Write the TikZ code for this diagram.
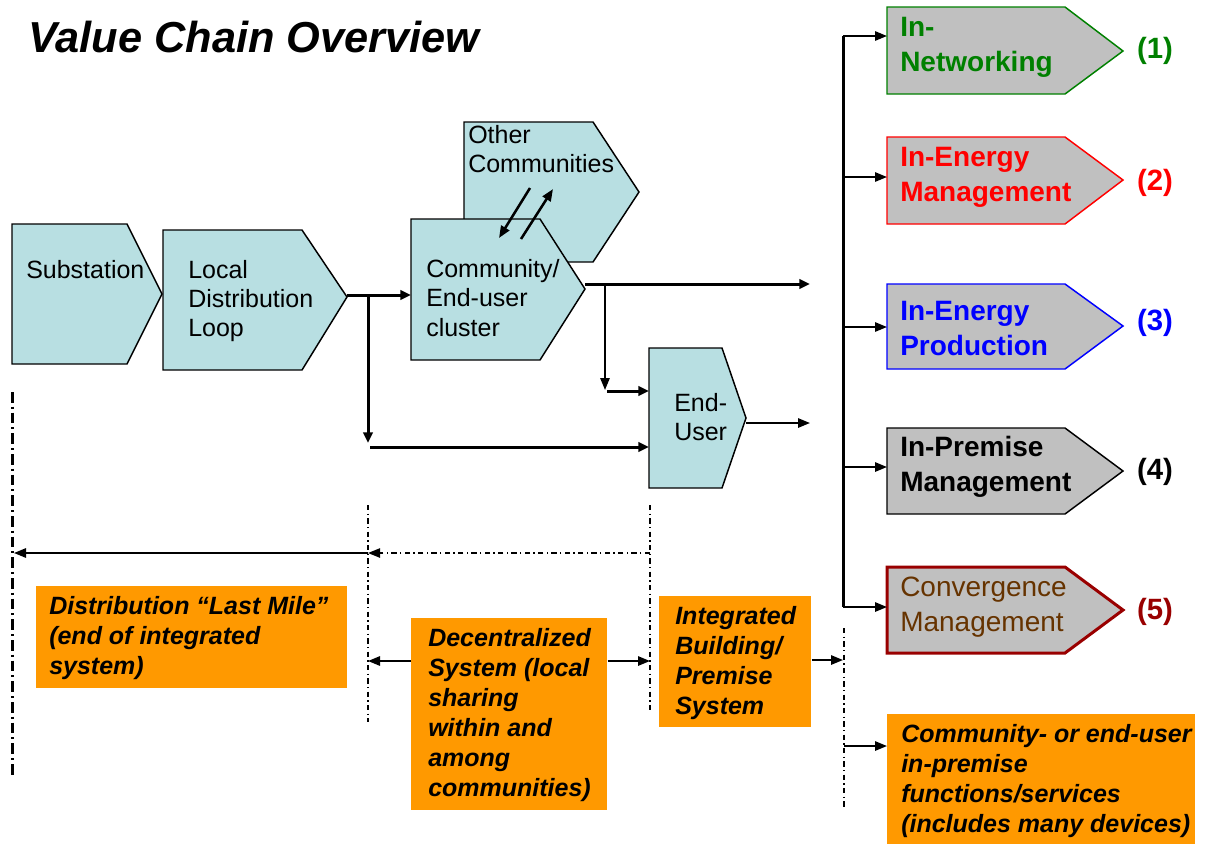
\documentclass[tikz,border=0pt]{standalone}
\usepackage{fontspec}
\setmainfont{Liberation Sans}
\usetikzlibrary{arrows.meta,calc}
\definecolor{cyanf}{HTML}{B8DFE2}
\definecolor{grayf}{HTML}{C0C0C0}
\definecolor{netg}{HTML}{008000}
\definecolor{engr}{HTML}{FF0000}
\definecolor{prodb}{HTML}{0000FF}
\definecolor{convr}{HTML}{990000}
\definecolor{convt}{HTML}{663300}
\definecolor{orangef}{HTML}{FF9900}
\begin{document}
\begin{tikzpicture}[x=0.75pt,y=-0.75pt,
  cyanbox/.style={draw=black, line width=1.1pt, fill=cyanf, line join=miter},
  graybox/.style={fill=grayf, line width=1.1pt, line join=miter},
  ctext/.style={anchor=west, align=left, inner sep=0pt, font=\fontsize{18.75pt}{22pt}\selectfont},
  rtext/.style={anchor=west, align=left, inner sep=0pt, font=\bfseries\fontsize{21pt}{26.25pt}\selectfont},
  num/.style={inner sep=0pt, font=\bfseries\fontsize{22pt}{26pt}\selectfont},
  obox/.style={fill=orangef, draw=none, anchor=north west, inner sep=0pt},
  otext/.style={anchor=west, align=left, inner sep=0pt, font=\bfseries\itshape\fontsize{18.75pt}{22.5pt}\selectfont},
  tkarrow/.style={line width=2.25pt, -{Triangle[length=8pt,width=7pt]}},
  tnarrow/.style={line width=1.4pt, -{Triangle[length=9pt,width=7pt]}},
  ddthin/.style={line width=1pt, dash pattern=on 4pt off 2.5pt on 1pt off 2.5pt},
  ddthick/.style={line width=2.25pt, dash pattern=on 8pt off 3pt on 1.5pt off 3pt},
]
\useasboundingbox (0,0) rectangle (1209,844);

% title
\node[anchor=west, inner sep=0pt, font=\bfseries\itshape\fontsize{32.5pt}{37pt}\selectfont] (title) at (28,37) {Value Chain Overview};

% cyan value-chain shapes
\draw[cyanbox] (12,224) -- (127,224) -- (162,294) -- (127,364) -- (12,364) -- cycle;
\node[ctext] (sub) at (26,270) {Substation};

\draw[cyanbox] (163,230) -- (302,230) -- (347,297) -- (302,370) -- (163,370) -- cycle;
\node[ctext] (ldl) at (188,301) {Local\\Distribution\\Loop};

\draw[cyanbox] (464,122) -- (593,122) -- (639,192) -- (593,262) -- (464,262) -- cycle;
\node[ctext] (oth) at (468,149) {Other\\Communities};

\draw[cyanbox] (411,219) -- (540,219) -- (585,289) -- (540,360) -- (411,360) -- cycle;
\node[ctext] (com) at (426,298) {Community/\\End-user\\cluster};

\draw[cyanbox] (649,348) -- (722,348) -- (746,418) -- (722,488) -- (649,488) -- cycle;
\node[ctext] (eu) at (674,417) {End-\\User};

% connection points
\coordinate (ldlT) at (347,295);
\coordinate (comW) at (411,295);
\coordinate (brA) at (368,295);
\coordinate (brAe) at (368,443);
\coordinate (brB) at (370,447);
\coordinate (euWb) at (649,447);
\coordinate (comT) at (585,284);
\coordinate (outA) at (810,284);
\coordinate (brC) at (605,284);
\coordinate (brCe) at (605,390);
\coordinate (brD) at (607,391);
\coordinate (euWa) at (649,391);
\coordinate (euT) at (746,423);
\coordinate (outB) at (810,423);
\coordinate (o1) at (530,188);
\coordinate (o1e) at (499,238);
\coordinate (o2) at (521,239);
\coordinate (o2e) at (553,189);

\draw[tkarrow] (ldlT) -- (comW);
\draw[tkarrow] (brA) -- (brAe);
\draw[tkarrow] (brB) -- (euWb);
\draw[tkarrow] (comT) -- (outA);
\draw[tnarrow] (brC) -- (brCe);
\draw[tkarrow] (brD) -- (euWa);
\draw[tnarrow] (euT) -- (outB);
\draw[tnarrow, line width=1.9pt] (o1) -- (o1e);
\draw[tnarrow, line width=1.9pt] (o2) -- (o2e);

% right-hand function shapes
\draw[graybox, draw=netg] (887,7) -- (1065,7) -- (1123,51) -- (1065,94) -- (887,94) -- cycle;
\node[rtext, text=netg] (net) at (900,47) {In-\\Networking};
\node[num, text=netg] (n1) at (1155,51) {(1)};

\draw[graybox, draw=engr] (887,137) -- (1065,137) -- (1123,180) -- (1065,224) -- (887,224) -- cycle;
\node[rtext, text=engr] (enm) at (900,177) {In-Energy\\Management};
\node[num, text=engr] (n2) at (1155,183) {(2)};

\draw[graybox, draw=prodb] (887,284) -- (1065,284) -- (1123,326) -- (1065,369) -- (887,369) -- cycle;
\node[rtext, text=prodb] (enp) at (900,328) {In-Energy\\Production};
\node[num, text=prodb] (n3) at (1155,323) {(3)};

\draw[graybox, draw=black] (887,428) -- (1065,428) -- (1123,471) -- (1065,514) -- (887,514) -- cycle;
\node[rtext, text=black] (prm) at (900,467) {In-Premise\\Management};
\node[num, text=black] (n4) at (1155,472) {(4)};

\draw[graybox, draw=convr, line width=2.25pt] (887,567) -- (1065,567) -- (1123,610) -- (1065,653) -- (887,653) -- cycle;
\node[rtext, text=convt, font=\fontsize{21pt}{26.25pt}\selectfont] (cnv) at (900,607) {Convergence\\Management};
\node[num, text=convr] (n5) at (1155,612) {(5)};

% distribution bar to functions
\coordinate (barT) at (843,36);
\coordinate (barB) at (843,607);
\draw[line width=2.25pt] (barT) -- (barB);
\foreach \yy/\nm in {36/f1,177/f2,327/f3,467/f4,607/f5}{
  \coordinate (\nm s) at (843,\yy);
  \coordinate (\nm e) at (887,\yy);
  \draw[tnarrow] (\nm s) -- (\nm e);
}

% boundary lines
\coordinate (vL1) at (12,392);
\coordinate (vL2) at (12,778);
\coordinate (vM1) at (368,505);
\coordinate (vM2) at (368,722);
\coordinate (vR1) at (650,505);
\coordinate (vR2) at (650,713);
\coordinate (vF1) at (844,628);
\coordinate (vF2) at (844,809);
\draw[ddthick] (vL1) -- (vL2);
\draw[ddthin] (vM1) -- (vM2);
\draw[ddthin] (vR1) -- (vR2);
\draw[ddthin] (vF1) -- (vF2);

\coordinate (hR) at (650,553);
\coordinate (hM) at (368,553);
\coordinate (hL) at (14,553);
\draw[ddthin, -{Triangle[length=9pt,width=7pt]}] (hR) -- (hM);
\draw[tnarrow] (hM) -- (hL);

% orange boxes
\node[obox, minimum width=233.25pt, minimum height=76.5pt] (dist) at (36,586) {};
\node[otext] (distT) at ($(dist.west)+(13,1)$) {Distribution “Last Mile”\\(end of integrated\\system)};

\node[obox, minimum width=147pt, minimum height=144pt] (dec) at (411,618) {};
\node[otext] (decT) at ($(dec.west)+(17,1)$) {Decentralized\\System (local\\sharing\\within and\\among\\communities)};

\node[obox, minimum width=114pt, minimum height=98.25pt] (ibp) at (659,596) {};
\node[otext] (ibpT) at ($(ibp.west)+(16,1)$) {Integrated\\Building/\\Premise\\System};

\node[obox, minimum width=231pt, minimum height=97.5pt] (cis) at (887,714) {};
\node[otext] (cisT) at ($(cis.west)+(14,2)$) {Community- or end-user\\in-premise\\functions/services\\(includes many devices)};

% arrows from boxes
\coordinate (dl) at (368,661);
\coordinate (dr) at (650,661);
\draw[tnarrow] (dec.west |- dl) -- (dl);
\draw[tnarrow] (dec.east |- dr) -- (dr);
\coordinate (ir) at (843,660);
\draw[tnarrow] (ibp.east |- ir) -- (ir);
\coordinate (cl) at (844,746);
\draw[tnarrow] (cl) -- (cis.west |- cl);
\end{tikzpicture}
\end{document}
